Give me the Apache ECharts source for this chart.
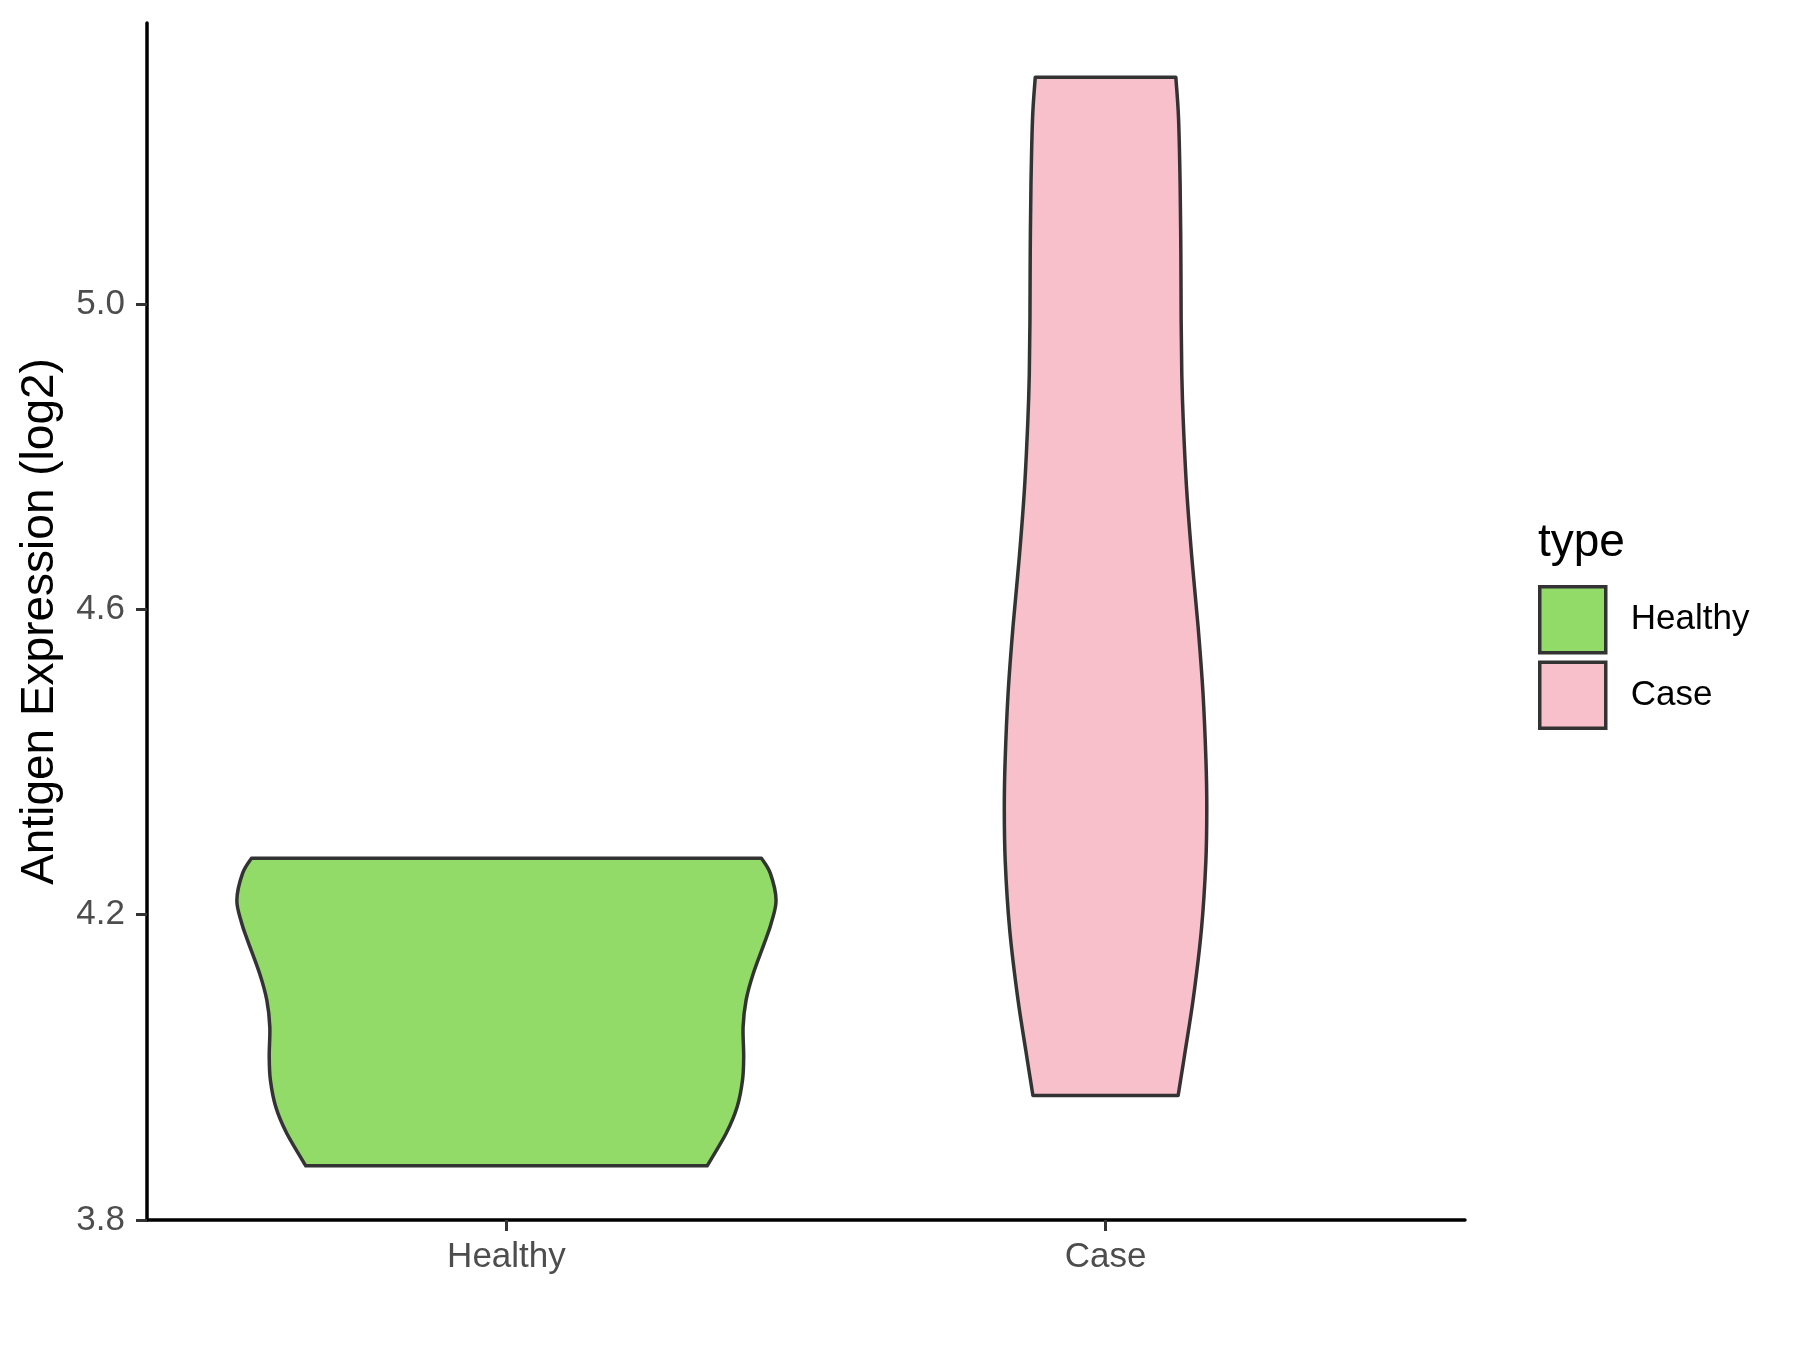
<!DOCTYPE html>
<html>
<head>
<meta charset="utf-8">
<script src="https://cdn.jsdelivr.net/npm/echarts@6/dist/echarts.min.js"></script>
<style>html,body{margin:0;padding:0;background:#fff}#c{width:1800px;height:1350px}</style>
</head>
<body>
<div id="c"></div>
<script>
// Data
var categories = ['Healthy', 'Case'];
var yTicks = [3.8, 4.2, 4.6, 5.0];
// Violin outlines: expression values (top to bottom) and half-widths (category units)
var healthyY  = [4.274, 4.254, 4.219, 4.189, 4.167, 4.123, 4.088, 4.053, 4.014, 3.983, 3.948, 3.914, 3.871];
var healthyHW = [0.4255, 0.4405, 0.45, 0.442, 0.4325, 0.412, 0.400, 0.395, 0.396, 0.394, 0.385, 0.367, 0.335];
var caseY  = [5.297, 5.244, 5.156, 5.067, 4.978, 4.907, 4.845, 4.757, 4.668, 4.579, 4.491, 4.402, 4.340, 4.269, 4.181, 4.092, 4.021, 3.963];
var caseHW = [0.1173, 0.1218, 0.1245, 0.1257, 0.1262, 0.1273, 0.1298, 0.1354, 0.144, 0.1543, 0.1626, 0.1676, 0.169, 0.1674, 0.1601, 0.1468, 0.1329, 0.1212];
var colors = ['#93DB69', '#F7C0CB'];

var FONT = 'Liberation Sans, Arial, sans-serif';

function catmull(pts) {
  var s = '';
  for (var i = 0; i < pts.length - 1; i++) {
    var p0 = pts[i - 1] || pts[i], p1 = pts[i], p2 = pts[i + 1], p3 = pts[i + 2] || pts[i + 1];
    var c1x = p1[0] + (p2[0] - p0[0]) / 6, c1y = p1[1] + (p2[1] - p0[1]) / 6;
    var c2x = p2[0] - (p3[0] - p1[0]) / 6, c2y = p2[1] - (p3[1] - p1[1]) / 6;
    s += ' C' + c1x + ' ' + c1y + ' ' + c2x + ' ' + c2y + ' ' + p2[0] + ' ' + p2[1];
  }
  return s;
}

function makeRender(ys, hws) {
  return function (params, api) {
    var xc = api.value(0);
    var right = [], left = [];
    for (var i = 0; i < ys.length; i++) {
      right.push(api.coord([xc + hws[i], ys[i]]));
    }
    for (var j = ys.length - 1; j >= 0; j--) {
      left.push(api.coord([xc - hws[j], ys[j]]));
    }
    var d = 'M' + right[0][0] + ' ' + right[0][1] + catmull(right) +
            ' L' + left[0][0] + ' ' + left[0][1] + catmull(left) + ' Z';
    return {
      type: 'path',
      shape: { pathData: d },
      style: { fill: colors[params.seriesIndex], stroke: '#333333', lineWidth: 3.5, lineJoin: 'round' }
    };
  };
}

var chart = echarts.init(document.getElementById('c'), null, { renderer: 'canvas' });
chart.setOption({
  animation: false,
  backgroundColor: '#ffffff',
  grid: { left: 147, right: 335, top: 23, bottom: 130, containLabel: false },
  xAxis: {
    type: 'value', min: 0.4, max: 2.6,
    axisLine: { show: true, lineStyle: { color: '#000', width: 3.5 } },
    axisTick: { show: true, length: 11, lineStyle: { color: '#333', width: 3 }, customValues: [1, 2] },
    axisLabel: { customValues: [1, 2], color: '#4D4D4D', fontSize: 35, fontFamily: FONT, margin: 20,
      formatter: function (v) { return categories[Math.round(v) - 1]; } },
    splitLine: { show: false }
  },
  yAxis: {
    type: 'value', min: 3.8, max: 5.368,
    name: 'Antigen Expression (log2)', nameLocation: 'middle', nameGap: 84,
    nameTextStyle: { color: '#000', fontSize: 46, fontFamily: FONT },
    axisLine: { show: true, lineStyle: { color: '#000', width: 3.5 } },
    axisTick: { show: true, length: 11, lineStyle: { color: '#333', width: 3 }, customValues: yTicks },
    axisLabel: { customValues: yTicks, color: '#4D4D4D', fontSize: 35, fontFamily: FONT, margin: 22,
      formatter: function (v) { return v.toFixed(1); } },
    splitLine: { show: false }
  },
  legend: {
    orient: 'vertical', left: 1538, top: 585, padding: 0,
    itemWidth: 66, itemHeight: 66, itemGap: 6,
    data: [{ name: 'Healthy', icon: 'rect' }, { name: 'Case', icon: 'rect' }],
    itemStyle: { borderColor: '#333333', borderWidth: 3.5 },
    textStyle: { color: '#000', fontSize: 35, fontFamily: FONT, padding: [0, 0, 0, 20] }
  },
  graphic: [{
    type: 'text', left: 1538, top: 520,
    style: { text: 'type', fill: '#000', font: '46px ' + FONT }
  }],
  series: [
    { name: 'Healthy', type: 'custom', renderItem: makeRender(healthyY, healthyHW),
      itemStyle: { color: colors[0] }, data: [[1]], encode: { x: 0 } },
    { name: 'Case', type: 'custom', renderItem: makeRender(caseY, caseHW),
      itemStyle: { color: colors[1] }, data: [[2]], encode: { x: 0 } }
  ]
});
</script>
</body>
</html>
